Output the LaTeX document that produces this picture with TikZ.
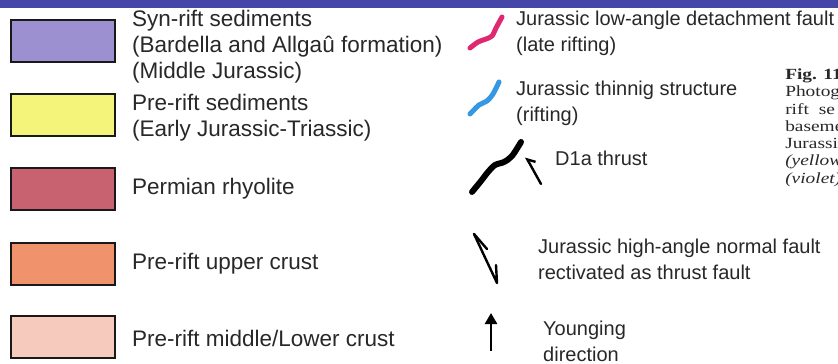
\documentclass[tikz,border=0pt]{standalone}
\usepackage{fontspec}
\setmainfont{Liberation Sans}
\newfontfamily\capfont{Liberation Serif}
\usetikzlibrary{arrows.meta}

\definecolor{bandblue}{RGB}{68,71,168}
\definecolor{synviolet}{RGB}{157,144,208}
\definecolor{preyellow}{RGB}{244,244,122}
\definecolor{rhyrose}{RGB}{200,98,112}
\definecolor{upsalmon}{RGB}{240,146,108}
\definecolor{lowpink}{RGB}{246,202,188}
\definecolor{detpink}{RGB}{224,40,112}
\definecolor{thinblue}{RGB}{52,152,226}
\definecolor{txtgray}{RGB}{40,40,40}

\tikzset{
  unitbox/.style={draw=black!90,line width=2.4pt,minimum width=104pt,minimum height=42pt,inner sep=0pt},
  lgd/.style={anchor=west,align=left,inner sep=0pt,text=txtgray,font=\fontsize{22.5}{26}\selectfont},
  lgdsmall/.style={anchor=west,align=left,inner sep=0pt,text=txtgray,font=\fontsize{20}{26}\selectfont},
  faultline/.style={line width=5pt,line cap=round,line join=round},
  tick/.style={line width=2.4pt,line cap=round,line join=round}
}

\begin{document}
\begin{tikzpicture}[x=1pt,y=-1pt]
\clip (0,0) rectangle (838,364);
\fill[white] (0,0) rectangle (838,364);
\fill[bandblue] (0,0) rectangle (838,8);
% colour boxes
\node[unitbox,fill=synviolet] (synrift) at (63,41) {};
\node[unitbox,fill=preyellow] (prerift) at (63,115) {};
\node[unitbox,fill=rhyrose] (rhyolite) at (63,189) {};
\node[unitbox,fill=upsalmon] (uppercrust) at (63,264) {};
\node[unitbox,fill=lowpink] (lowercrust) at (63,337) {};
\node[lgd] (synrift-txt) at (132,47) {Syn-rift sediments\\(Bardella and Allga\^u formation)\\(Middle Jurassic)};
\node[lgd] (prerift-txt) at (132,118) {Pre-rift sediments\\(Early Jurassic-Triassic)};
\node[lgd] (rhyolite-txt) at (132,189) {Permian rhyolite};
\node[lgd] (uppercrust-txt) at (132,264) {Pre-rift upper crust};
\node[lgd] (lowercrust-txt) at (132,338) {Pre-rift middle/Lower crust};
% structure symbols
\draw[faultline,detpink] plot[smooth] coordinates {(470,48) (478,42) (486,39) (492,36) (496,28) (502,17)};
\draw[faultline,thinblue] plot[smooth] coordinates {(470,114) (479,105) (487,101) (493,94) (499,82)};
\draw[faultline,line width=6pt,black] plot[smooth] coordinates {(472,192) (481,181) (488,172) (495,165) (504,162) (512,156) (521,142)};
\coordinate (thr-a) at (541,184);
\coordinate (thr-b) at (526,157);
\draw[tick,-{Straight Barb[harpoon,swap,length=6pt]}] (thr-a) -- (thr-b);
\coordinate (nf-top) at (474,234);
\coordinate (nf-bot) at (497,283);
\draw[tick] (nf-top) -- (nf-bot) -- (496,265);
\draw[tick] (nf-top) -- (487,249);
\coordinate (yg-a) at (491,351);
\coordinate (yg-b) at (491,313);
\draw[line width=2.6pt,-{Triangle[length=11pt,width=12pt]}] (yg-a) -- (yg-b);
\node[lgdsmall] (detach-txt) at (516,33) {Jurassic low-angle detachment fault\\(late rifting)};
\node[lgdsmall] (thin-txt) at (516,103) {Jurassic thinnig structure\\(rifting)};
\node[lgdsmall] (thrust-txt) at (555,158) {D1a thrust};
\node[lgdsmall] (normal-txt) at (538,259) {Jurassic high-angle normal fault\\rectivated as thrust fault};
\node[lgdsmall] (young-txt) at (543,341) {Younging\\direction};
% caption, cut by the frame
\node[anchor=north west,align=left,inner sep=0pt,xscale=1.25,transform shape,text=txtgray,font=\capfont\fontsize{15.5}{17.3}\selectfont] (caption) at (785,68.5)
  {\textbf{Fig. 11}\\Photog\\rift\hspace{8pt}se\\baseme\\Jurassi\\\textit{(yellow}\\\textit{(violet)}};
\end{tikzpicture}
\end{document}
